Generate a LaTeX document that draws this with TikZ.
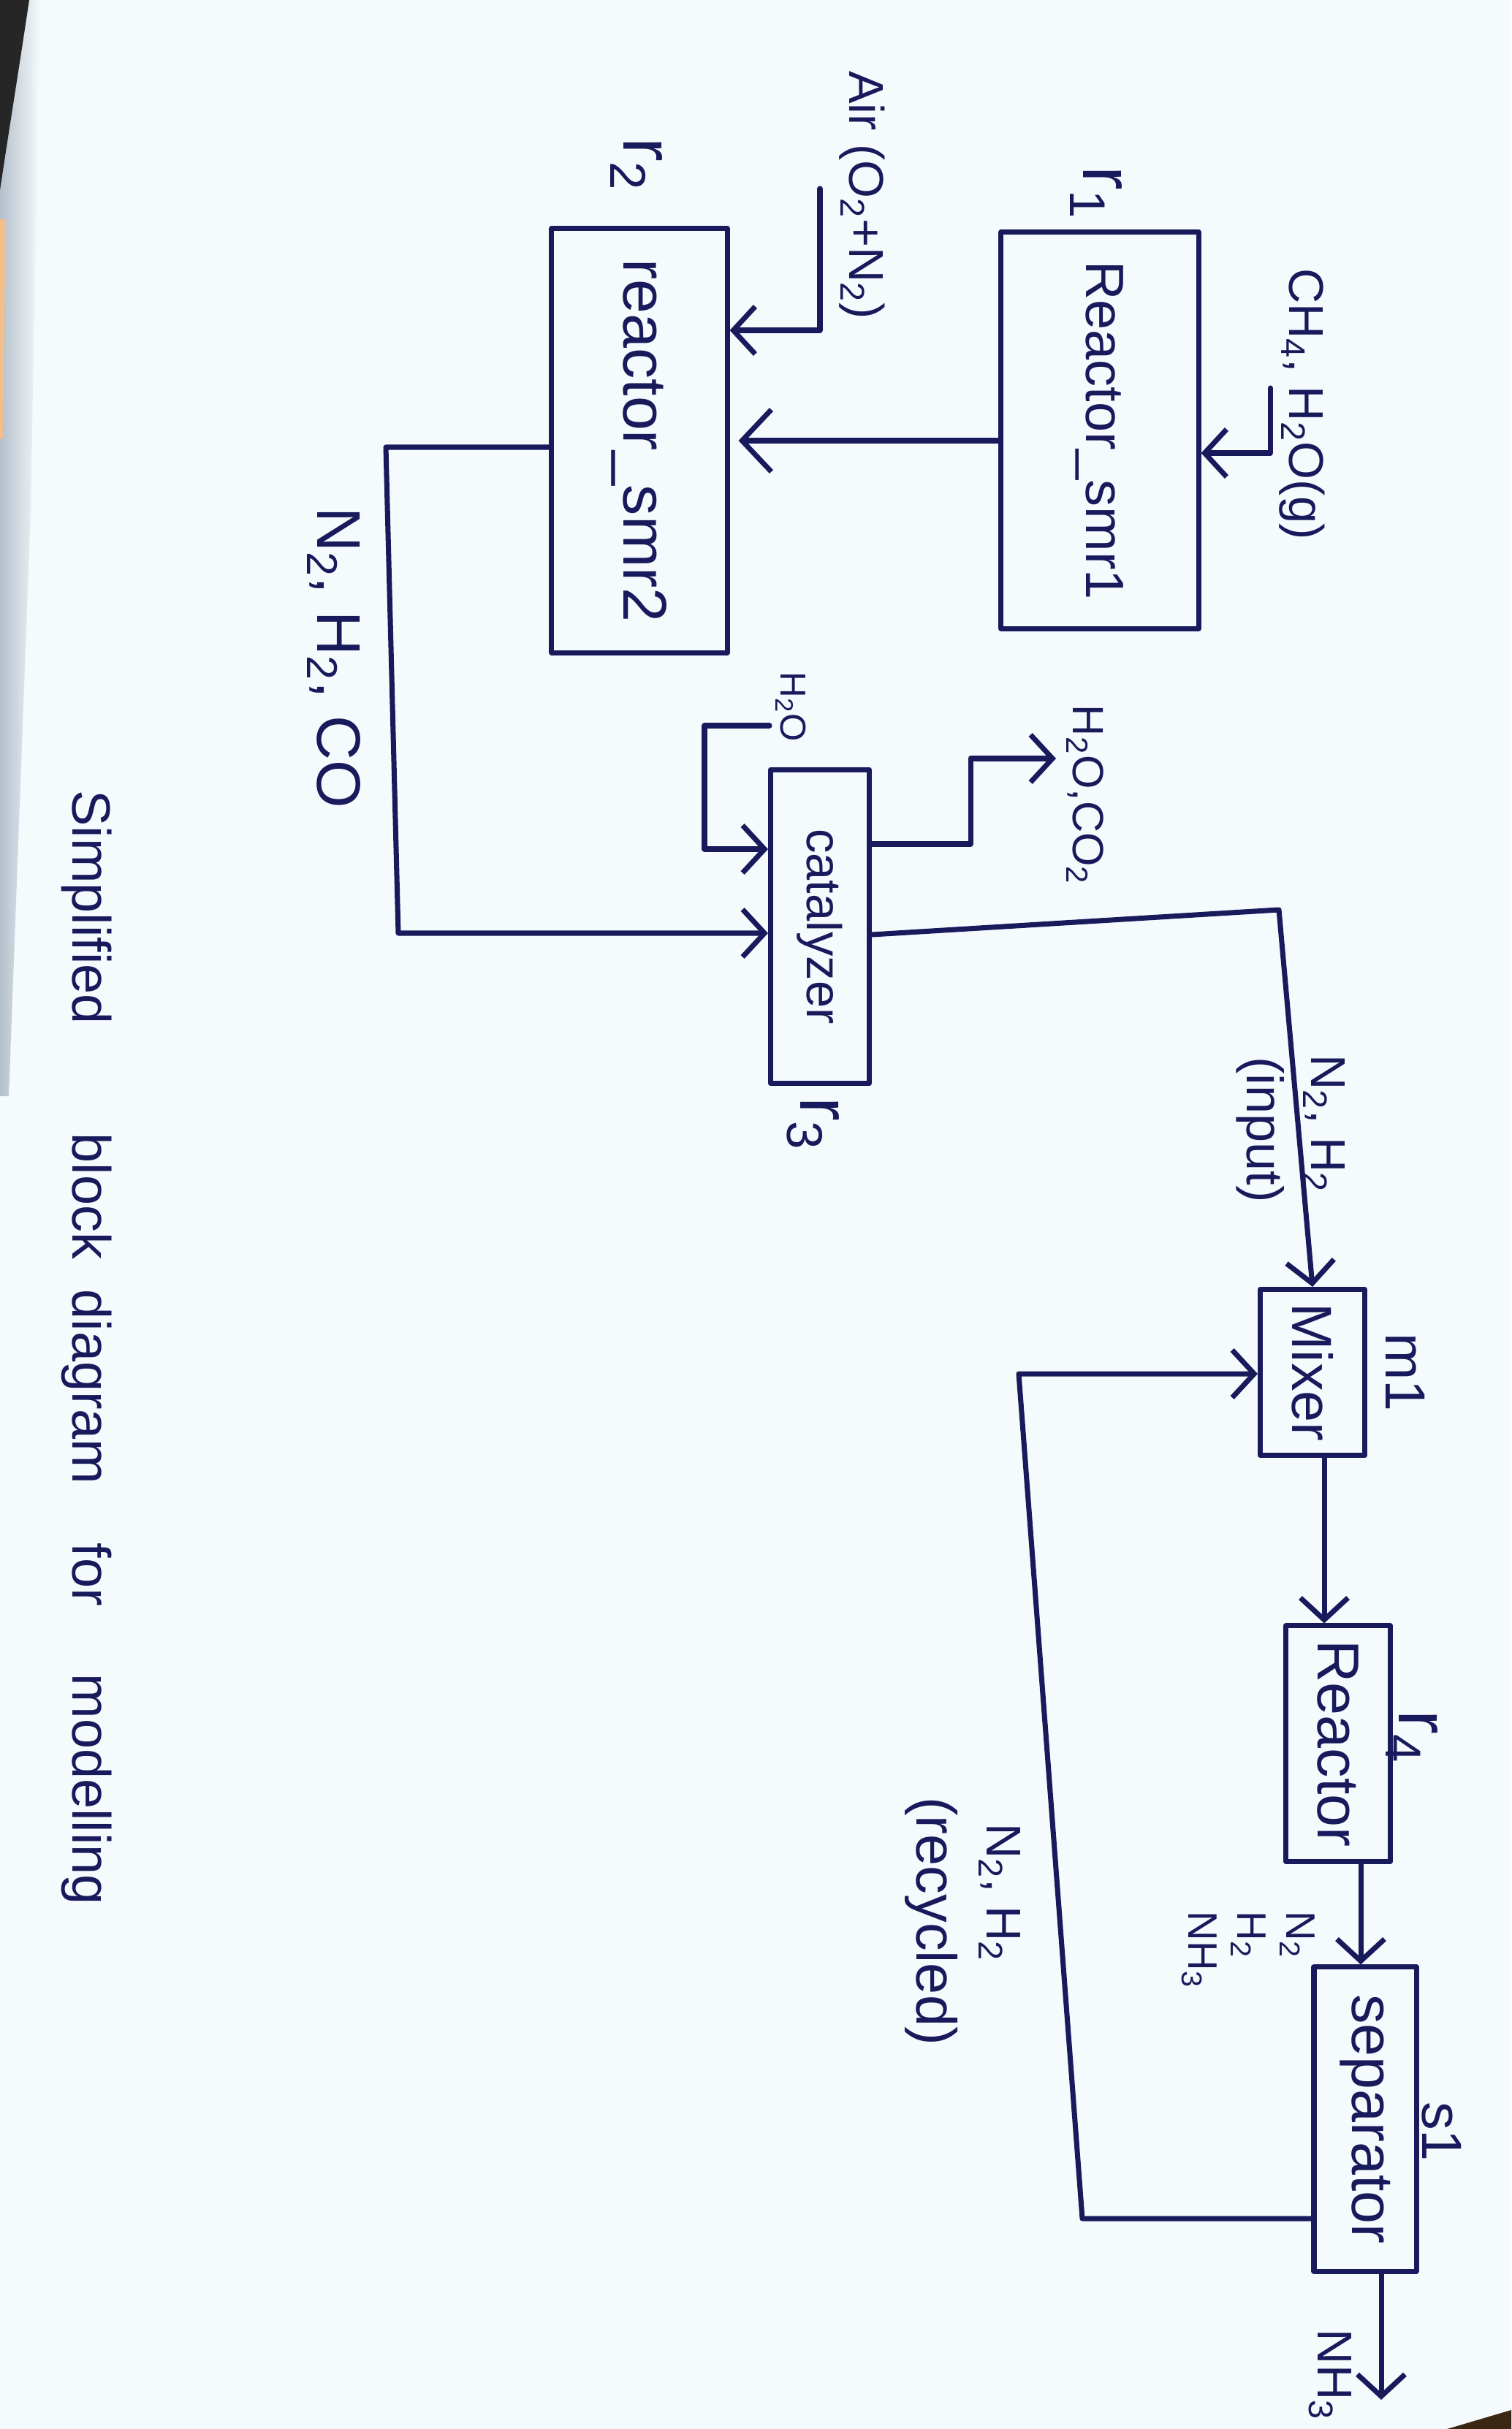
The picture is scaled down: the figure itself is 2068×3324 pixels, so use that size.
\documentclass[tikz,border=0pt]{standalone}
\usepackage{fontspec}
\setmainfont{Liberation Sans}
\usepackage{graphicx}
\usetikzlibrary{arrows.meta}

\definecolor{ink}{RGB}{24,26,92}
\definecolor{paper}{RGB}{245,250,252}
\definecolor{edgeshade}{RGB}{180,192,204}
\newcommand\inksize[1]{\fontsize{#1}{#1}\selectfont}

\begin{document}
\begin{tikzpicture}[x=0.01cm, y=-0.01cm,
  line cap=round, line join=round,
  unitbox/.style={draw=ink, line width=2pt, inner sep=0pt, text=ink},
  flow/.style={draw=ink, line width=2pt, -{Straight Barb[length=3mm,width=6.5mm]}},
  bigflow/.style={draw=ink, line width=2pt, -{Straight Barb[length=4mm,width=8.5mm]}},
  lbl/.style={rotate=-90, text=ink, inner sep=0pt},
]

% sheet of paper
\fill[paper] (0,0) rectangle (2068,3324);
\useasboundingbox (0,0) rectangle (2068,3324);
\shade[left color=edgeshade, right color=paper] (0,0) -- (55,0) -- (42,700) -- (12,1500) -- (0,1500) -- cycle;
\fill[black!85] (0,0) -- (40,0) .. controls (25,100) and (12,180) .. (0,260) -- cycle;
\fill[brown!40!orange!50] (0,300) -- (8,300) -- (4,600) -- (0,600) -- cycle;
\fill[black!70!brown] (1980,3324) -- (2068,3298) -- (2068,3324) -- cycle;

% process units
\node[unitbox, minimum width=2.70cm, minimum height=5.42cm] (smr1) at (1505,589) {\rotatebox{-90}{\inksize{21}Reactor\_smr1}};
\node[unitbox, minimum width=2.40cm, minimum height=5.80cm] (smr2) at (875,603) {\rotatebox{-90}{\inksize{24}reactor\_smr2}};
\node[unitbox, minimum width=1.35cm, minimum height=4.29cm] (cat) at (1122,1268) {\rotatebox{-90}{\inksize{19}catalyzer}};
\node[unitbox, minimum width=1.43cm, minimum height=2.27cm] (mixer) at (1796,1878) {\rotatebox{-90}{\inksize{22}Mixer}};
\node[unitbox, minimum width=1.43cm, minimum height=3.22cm] (reactor) at (1831,2386) {\rotatebox{-90}{\inksize{23}Reactor}};
\node[unitbox, minimum width=1.40cm, minimum height=4.16cm] (sep) at (1868,2900) {\rotatebox{-90}{\inksize{23}separator}};

% unit tags
\node[lbl, font={\inksize{28}}] (tagR1) at (1500,264) {r\textsubscript{1}};
\node[lbl, font={\inksize{28}}] (tagR2) at (871,225) {r\textsubscript{2}};
\node[lbl, font={\inksize{28}}] (tagR3) at (1113,1538) {r\textsubscript{3}};
\node[lbl, font={\inksize{28}}] (tagR4) at (1932,2377) {r\textsubscript{4}};
\node[lbl, font={\inksize{22}}] (tagM1) at (1923,1878) {m1};
\node[lbl, font={\inksize{22}}] (tagS1) at (1973,2917) {s1};

% methane and steam feed
\coordinate (feedTop) at (1738,531);
\coordinate (feedBend) at (1738,620);
\draw[flow] (feedTop) -- (feedBend) -- (feedBend -| smr1.east);
\node[lbl, font={\inksize{19}}] (feedLbl) at (1782,553) {CH\textsubscript{4}, H\textsubscript{2}O(g)};

% primary to secondary reformer
\coordinate (midLink) at (1200,603);
\draw[bigflow, shorten >=1.2mm] (midLink -| smr1.west) -- (midLink -| smr2.east);

% air feed
\coordinate (airTop) at (1122,258);
\coordinate (airBend) at (1122,452);
\draw[flow] (airTop) -- (airBend) -- (airBend -| smr2.east);
\node[lbl, font={\inksize{19}}] (airLbl) at (1180,267) {Air (O\textsubscript{2}+N\textsubscript{2})};

% reformed gas to the catalyzer
\coordinate (gasOut) at (528,612);
\coordinate (gasBend) at (545,1277);
\draw[flow] (gasOut -| smr2.west) -- (gasOut) -- (gasBend) -- (gasBend -| cat.west);
\node[lbl, font={\inksize{24}}] (gasLbl) at (457,900) {N\textsubscript{2}, H\textsubscript{2}, CO};

% water to the catalyzer
\coordinate (waterIn) at (1053,993);
\coordinate (waterTop) at (964,993);
\coordinate (waterBend) at (964,1162);
\draw[flow] (waterIn) -- (waterTop) -- (waterBend) -- (waterBend -| cat.west);
\node[lbl, font={\inksize{14}}] (waterLbl) at (1082,967) {H\textsubscript{2}O};

% vent of water and carbon dioxide
\coordinate (ventBend) at (1328,1155);
\coordinate (ventTop) at (1328,1038);
\coordinate (ventEnd) at (1445,1038);
\draw[flow] (ventBend -| cat.east) -- (ventBend) -- (ventTop) -- (ventEnd);
\node[lbl, font={\inksize{17}}] (ventLbl) at (1485,1088) {H\textsubscript{2}O,CO\textsubscript{2}};

% synthesis gas to the mixer
\coordinate (synOut) at (1300,1279);
\coordinate (synBend) at (1750,1245);
\draw[flow] (synOut -| cat.east) -- (synBend) -- (mixer.north);
\node[lbl, font={\inksize{19}}] (synLbl) at (1812,1538) {N\textsubscript{2}, H\textsubscript{2}};
\node[lbl, font={\inksize{20}}] (synNote) at (1725,1546) {(input)};

% mixer to reactor to separator
\coordinate (mixDrop) at (1812,2100);
\draw[flow] (mixDrop |- mixer.south) -- (mixDrop |- reactor.north);
\coordinate (reacDrop) at (1862,2600);
\draw[flow] (reacDrop |- reactor.south) -- (reacDrop |- sep.north);
\node[lbl, anchor=north west, align=left, font={\fontsize{16}{19}\selectfont}] (prodLbl) at (1800,2615) {N\textsubscript{2}\\H\textsubscript{2}\\NH\textsubscript{3}};

% recycle loop
\coordinate (recLow) at (1481,3036);
\coordinate (recHigh) at (1394,1880);
\draw[flow] (recLow -| sep.west) -- (recLow) -- (recHigh) -- (recHigh -| mixer.west);
\node[lbl, font={\inksize{19}}] (recLbl) at (1368,2590) {N\textsubscript{2}, H\textsubscript{2}};
\node[lbl, font={\inksize{22}}] (recNote) at (1274,2629) {(recycled)};

% ammonia product
\coordinate (nh3End) at (1890,3284);
\draw[flow] (nh3End |- sep.south) -- (nh3End);
\node[lbl, font={\inksize{19}}] (nh3Lbl) at (1820,3250) {NH\textsubscript{3}};

% caption
\node[lbl, anchor=base west, font={\inksize{21}}] (cap1) at (100,1081) {Simplified};
\node[lbl, anchor=base west, font={\inksize{21}}] (cap2) at (100,1550) {block};
\node[lbl, anchor=base west, font={\inksize{21}}] (cap3) at (100,1764) {diagram};
\node[lbl, anchor=base west, font={\inksize{21}}] (cap4) at (100,2111) {for};
\node[lbl, anchor=base west, font={\inksize{21}}] (cap5) at (100,2290) {modelling};

\end{tikzpicture}
\end{document}
